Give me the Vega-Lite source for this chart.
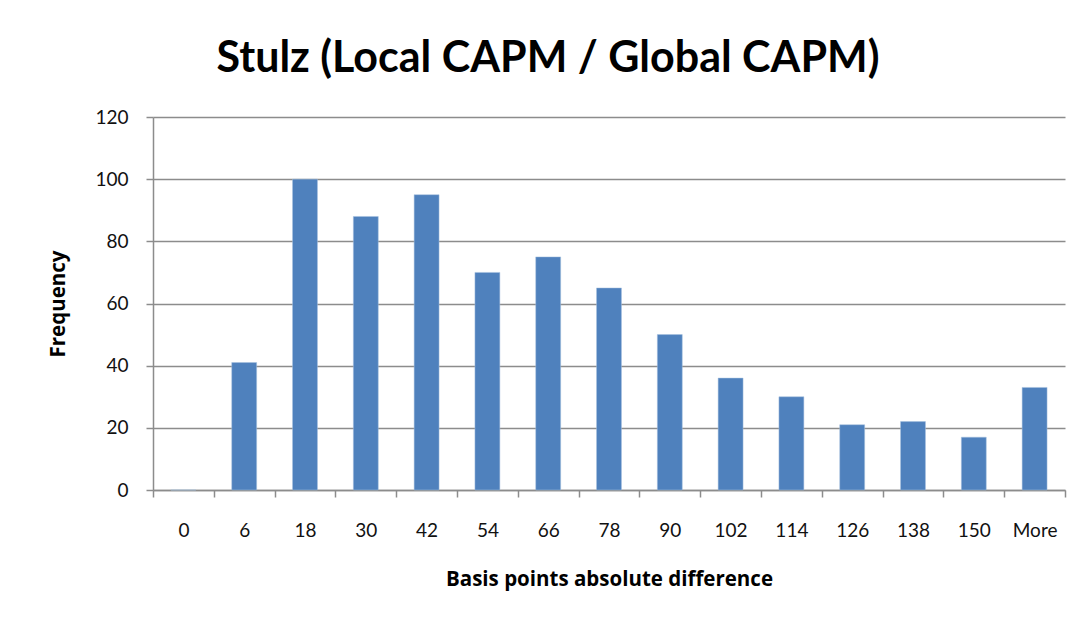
{
  "$schema": "https://vega.github.io/schema/vega-lite/v6.json",
  "width": 912,
  "height": 373,
  "autosize": {"type": "none"},
  "padding": {"left": 153, "top": 117, "right": 21, "bottom": 138},
  "background": "white",
  "title": {
    "text": "Stulz (Local CAPM / Global CAPM)",
    "font": "Lato",
    "fontSize": 43,
    "fontWeight": "bold",
    "color": "#000000",
    "anchor": "middle",
    "dx": -61,
    "offset": 27
  },
  "data": {
    "values": [
      {"bin": "0", "freq": 0},
      {"bin": "6", "freq": 41},
      {"bin": "18", "freq": 100},
      {"bin": "30", "freq": 88},
      {"bin": "42", "freq": 95},
      {"bin": "54", "freq": 70},
      {"bin": "66", "freq": 75},
      {"bin": "78", "freq": 65},
      {"bin": "90", "freq": 50},
      {"bin": "102", "freq": 36},
      {"bin": "114", "freq": 30},
      {"bin": "126", "freq": 21},
      {"bin": "138", "freq": 22},
      {"bin": "150", "freq": 17},
      {"bin": "More", "freq": 33}
    ]
  },
  "mark": {"type": "bar", "color": "#4f81bd", "stroke": "#a7c0de", "strokeWidth": 0.5, "width": {"band": 0.41}},
  "encoding": {
    "x": {
      "field": "bin",
      "type": "nominal",
      "sort": null,
      "scale": {"paddingInner": 0, "paddingOuter": 0},
      "axis": {
        "title": "Basis points absolute difference",
        "titleFont": "Open Sans",
        "titleFontSize": 20.5,
        "titleFontWeight": "bold",
        "titleColor": "#000000",
        "titlePadding": 29,
        "labelFont": "Lato",
        "labelFontSize": 19,
        "labelColor": "#111111",
        "labelAngle": 0,
        "labelPadding": 24,
        "tickBand": "extent",
        "ticks": true,
        "tickSize": 7,
        "tickColor": "#8c8c8c",
        "tickWidth": 1.5,
        "domainColor": "#8c8c8c",
        "domainWidth": 1.5,
        "grid": false
      }
    },
    "y": {
      "field": "freq",
      "type": "quantitative",
      "scale": {"domain": [0, 120]},
      "axis": {
        "title": "Frequency",
        "titleFont": "Open Sans",
        "titleFontSize": 20.5,
        "titleFontWeight": "bold",
        "titleColor": "#000000",
        "titlePadding": 26,
        "values": [0, 20, 40, 60, 80, 100, 120],
        "labelFont": "Lato",
        "labelFontSize": 19,
        "labelColor": "#111111",
        "labelPadding": 18,
        "tickSize": 7,
        "tickColor": "#8c8c8c",
        "tickWidth": 1.5,
        "domainColor": "#8c8c8c",
        "domainWidth": 1.5,
        "grid": true,
        "gridColor": "#8c8c8c",
        "gridWidth": 1.5
      }
    }
  },
  "config": {"view": {"stroke": null}}
}
